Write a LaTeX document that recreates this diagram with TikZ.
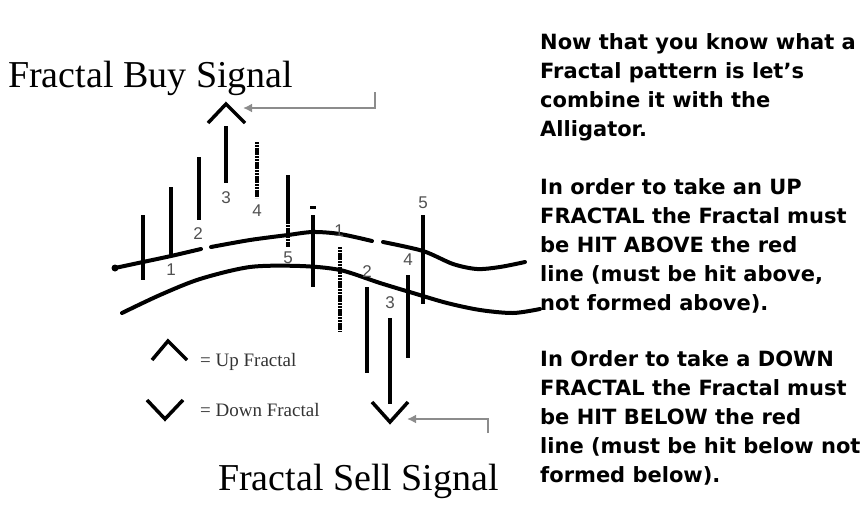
\documentclass[tikz,border=0pt]{standalone}
\usepackage{fontspec}
\setmainfont{Liberation Serif}
\newfontfamily\notefont{DejaVu Sans}
\newfontfamily\digitfont{Liberation Sans}
\usetikzlibrary{arrows.meta, positioning}
\definecolor{pointergray}{RGB}{140,140,140}
\definecolor{labelgray}{RGB}{80,80,80}

\begin{document}
\begin{tikzpicture}[x=1pt, y=-1pt,
    bar/.style={line width=4pt},
    ribbed/.style={line width=4pt, dash pattern=on 2.2pt off 0.6pt},
    gator/.style={line width=4pt, line cap=round},
    chevron/.style={line width=3.5pt},
    pointer/.style={pointergray, line width=2.6pt, -{Latex[length=9pt, width=9pt]}},
    title/.style={font=\fontsize{38}{40}\selectfont, anchor=base west, inner sep=0pt},
    num/.style={font=\digitfont\fontsize{17}{17}\selectfont, text=labelgray, inner sep=0pt},
    legend/.style={font=\fontsize{19}{19}\selectfont, text=black!80, anchor=west, inner sep=0pt},
    note/.style={font=\notefont\bfseries\fontsize{21}{29}\selectfont, align=left, anchor=base west, inner sep=0pt}]
  \useasboundingbox (0,0) rectangle (863,525);

  % Titles
  \node[title] (buytitle) at (8,87) {Fractal Buy Signal};
  \node[title] (selltitle) at (218,490) {Fractal Sell Signal};

  % Alligator lines
  \fill (115,268) circle (3.5pt);
  \draw[gator] plot[smooth] coordinates {(115,268) (143,262) (171,256) (201,249)};
  \draw[gator] plot[smooth] coordinates {(211,247) (250,240) (288,235) (313,232) (340,234) (372,241)};
  \draw[gator] plot[smooth] coordinates {(383,242) (423,251) (453,264) (477,269) (500,267) (525,262)};
  \draw[gator] plot[smooth] coordinates {(122,313) (160,295) (200,279) (250,267) (300,266) (340,270)
    (380,283) (413,293) (447,303) (480,310) (513,313) (540,309)};

  % Up fractal bars
  \foreach \x/\hi/\lo in {143/215/280, 171/187/255, 199/157/220, 226/126/183, 288/175/222, 313/215/287}{
    \draw[bar] (\x,\hi) -- (\x,\lo);
  }
  \draw[ribbed] (257,142) -- (257,198);
  \draw[ribbed] (288,222) -- (288,247);
  \draw[line width=3pt] (310,207) -- (316,207);

  % Down fractal bars
  \foreach \x/\hi/\lo in {367/287/373, 390/318/404, 408/275/358, 423/215/304}{
    \draw[bar] (\x,\hi) -- (\x,\lo);
  }
  \draw[ribbed] (340,247) -- (340,332);

  % Bar numbers
  \foreach \n/\x/\y in {1/171/270, 2/198/234, 3/226/198, 4/257/211, 5/288/258}{
    \node[num] (up\n) at (\x,\y) {\n};
  }
  \foreach \n/\x/\y in {1/339/231, 2/367/272, 3/390/303, 4/408/260, 5/423/203}{
    \node[num] (dn\n) at (\x,\y) {\n};
  }

  % Signal chevrons and pointers
  \draw[chevron] (208,123) -- (226,104) -- (245,123);
  \draw[chevron] (372,402) -- (390,422) -- (408,402);
  \coordinate (buytip) at (243,108);
  \coordinate (buytail) at (375,92);
  \coordinate (selltip) at (407,419);
  \coordinate (selltail) at (488,433);
  \draw[pointer] (buytail) |- (buytip);
  \draw[pointer] (selltail) |- (selltip);

  % Legend
  \draw[chevron] (152,360) -- (168,341) -- (187,360);
  \node[legend] (uplegend) at (200,362) {= Up Fractal};
  \draw[chevron] (147,400) -- (165,419) -- (183,400);
  \node[legend] (dnlegend) at (200,410) {= Down Fractal};

  % Notes (base anchor sits on the last line)
  \node[note] (intro) at (540,136) {Now that you know what a\\Fractal pattern is let’s\\combine it with the\\Alligator.};
  \node[note] (uprule) at (540,310) {In order to take an UP\\FRACTAL the Fractal must\\be HIT ABOVE the red\\line (must be hit above,\\not formed above).};
  \node[note] (dnrule) at (540,482) {In Order to take a DOWN\\FRACTAL the Fractal must\\be HIT BELOW the red\\line (must be hit below not\\formed below).};
\end{tikzpicture}
\end{document}
